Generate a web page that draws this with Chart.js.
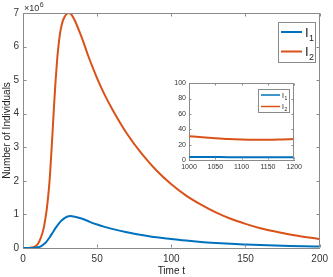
<!DOCTYPE html>
<html>
<head>
<meta charset="utf-8">
<script src="https://cdn.jsdelivr.net/npm/chart.js@4.4.1/dist/chart.umd.min.js"></script>
<style>
    html, body { margin: 0; padding: 0; background: #fff; }
    #wrap { position: relative; width: 333px; height: 277px; }
    #main { position: absolute; left: 0; top: 0; }
    #inset { position: absolute; left: 165px; top: 76px; }
</style>
</head>
<body>
<div id="wrap">
    <canvas id="main" width="333" height="277"></canvas>
    <canvas id="inset" width="140" height="100"></canvas>
</div>
<script>
// Main plot data (values in millions, axis shows x10^6)
const timeI1 = [0, 5, 8, 10, 12, 14, 16, 18, 20, 22, 24, 26, 28, 30, 32, 35, 40, 45, 50, 55, 60, 70, 80, 90, 100, 110, 120, 130, 140, 150, 160, 170, 180, 190, 200];
const i1Main = [0, 0.003, 0.01, 0.02, 0.05, 0.11, 0.2, 0.32, 0.46, 0.6, 0.72, 0.82, 0.89, 0.94, 0.95, 0.93, 0.87, 0.78, 0.7, 0.63, 0.57, 0.47, 0.39, 0.32, 0.27, 0.22, 0.18, 0.15, 0.125, 0.105, 0.087, 0.072, 0.06, 0.05, 0.041];

const timeI2 = [0, 5, 8, 10, 12, 14, 15, 16, 17, 18, 19, 20, 21, 22, 23, 24, 25, 26, 27, 28, 29, 30, 31, 32, 33, 35, 38, 41, 44, 47, 51, 55, 60, 70, 80, 90, 100, 110, 120, 130, 140, 150, 160, 170, 180, 190, 200];
const i2Main = [0, 0.01, 0.04, 0.12, 0.3, 0.6, 0.85, 1.15, 1.55, 2.05, 2.75, 3.5, 4.3, 5.0, 5.6, 6.05, 6.4, 6.63, 6.78, 6.88, 6.95, 6.99, 7.0, 6.98, 6.93, 6.77, 6.45, 6.1, 5.72, 5.38, 4.95, 4.57, 4.15, 3.41, 2.81, 2.31, 1.9, 1.56, 1.29, 1.06, 0.87, 0.72, 0.59, 0.49, 0.4, 0.33, 0.27];

// Inset data
const timeInset = [1000, 1025, 1050, 1075, 1100, 1125, 1150, 1175, 1200];
const i1Inset = [4.0, 3.9, 3.8, 3.7, 3.7, 3.6, 3.6, 3.6, 3.6];
const i2Inset = [31, 29.5, 28.3, 27.3, 26.7, 26.4, 26.4, 26.7, 27.2];

const seriesNames = ['I', 'I'];
const seriesSubs = ['1', '2'];
const seriesColors = ['#0072BD', '#D95319'];

const FONT = '"Liberation Sans", Arial, Helvetica, sans-serif';
const AXIS_COLOR = '#8a8a8a';
const TEXT_COLOR = '#333';

function toPoints(xs, ys) {
    return xs.map((x, i) => ({ x: x, y: ys[i] }));
}

// Draws the MATLAB-style box with inward ticks
const boxTicks = {
    id: 'boxTicks',
    beforeDraw(chart) {
        const a = chart.chartArea;
        const ctx = chart.ctx;
        ctx.save();
        ctx.fillStyle = '#fff';
        ctx.fillRect(a.left, a.top, a.right - a.left, a.bottom - a.top);
        ctx.restore();
    },
    afterDraw(chart, args, opts) {
        const { ctx, chartArea: a, scales: { x, y } } = chart;
        const L = opts.len || 3;
        ctx.save();
        ctx.strokeStyle = AXIS_COLOR;
        ctx.lineWidth = 1;
        ctx.beginPath();
        const t = Math.round(a.top) + 0.5, b = Math.round(a.bottom) - 0.5;
        const l = Math.round(a.left) + 0.5, r = Math.round(a.right) - 0.5;
        ctx.moveTo(l, t); ctx.lineTo(r, t); ctx.lineTo(r, b);
        x.ticks.forEach(tk => {
            const px = Math.round(x.getPixelForValue(tk.value)) + 0.5;
            ctx.moveTo(px, b); ctx.lineTo(px, b - L);
            ctx.moveTo(px, t); ctx.lineTo(px, t + L);
        });
        y.ticks.forEach(tk => {
            const py = Math.round(y.getPixelForValue(tk.value)) + 0.5;
            ctx.moveTo(l, py); ctx.lineTo(l + L, py);
            ctx.moveTo(r, py); ctx.lineTo(r - L, py);
        });
        ctx.stroke();
        ctx.restore();
    }
};

// Legend box with subscripted labels
const boxLegend = {
    id: 'boxLegend',
    afterDraw(chart, args, o) {
        if (!o || !o.w) return;
        const ctx = chart.ctx;
        ctx.save();
        ctx.fillStyle = '#fff';
        ctx.fillRect(o.x, o.y, o.w, o.h);
        ctx.strokeStyle = '#8a8a8a';
        ctx.lineWidth = 1;
        ctx.strokeRect(o.x + 0.5, o.y + 0.5, o.w, o.h);
        chart.data.datasets.forEach((ds, i) => {
            const ry = o.rows[i];
            ctx.strokeStyle = ds.borderColor;
            ctx.lineWidth = o.lw;
            ctx.beginPath();
            ctx.moveTo(o.x0, ry); ctx.lineTo(o.x1, ry);
            ctx.stroke();
            ctx.fillStyle = '#222';
            ctx.textBaseline = 'alphabetic';
            ctx.font = o.fs + 'px ' + FONT;
            ctx.fillText(seriesNames[i], o.tx, ry + o.fs * 0.36);
            const w = ctx.measureText(seriesNames[i]).width;
            ctx.font = o.sfs + 'px ' + FONT;
            ctx.fillText(seriesSubs[i], o.tx + w + 0.5, ry + o.fs * 0.36 + o.sfs * 0.45);
        });
        ctx.restore();
    }
};

// x10^6 exponent label
const exponentLabel = {
    id: 'exponentLabel',
    afterDraw(chart, args, o) {
        if (!o || !o.show) return;
        const ctx = chart.ctx;
        ctx.save();
        ctx.fillStyle = TEXT_COLOR;
        ctx.textBaseline = 'alphabetic';
        ctx.font = '9px ' + FONT;
        ctx.fillText('\u00d710', 24, 11);
        const w = ctx.measureText('\u00d710').width;
        ctx.font = '7px ' + FONT;
        ctx.fillText('6', 24 + w + 0.5, 7);
        ctx.restore();
    }
};

function lineSet(label, pts, color, width) {
    return {
        label: label,
        data: pts,
        borderColor: color,
        borderWidth: width,
        pointRadius: 0,
        fill: false,
        cubicInterpolationMode: 'monotone'
    };
}

new Chart(document.getElementById('main').getContext('2d'), {
    type: 'line',
    data: {
        datasets: [
            lineSet('I1', toPoints(timeI1, i1Main), seriesColors[0], 2),
            lineSet('I2', toPoints(timeI2, i2Main), seriesColors[1], 2)
        ]
    },
    options: {
        responsive: false,
        animation: false,
        devicePixelRatio: 1,
        layout: { padding: { left: 1, right: 8, top: 13, bottom: 0 } },
        plugins: {
            legend: { display: false },
            tooltip: { enabled: false },
            boxTicks: { len: 3 },
            boxLegend: { x: 278, y: 22, w: 37, h: 40, x0: 281, x1: 302, rows: [32, 51.5], tx: 305, fs: 13, sfs: 9, lw: 2 },
            exponentLabel: { show: true }
        },
        scales: {
            x: {
                type: 'linear',
                min: 0,
                max: 200,
                ticks: { stepSize: 50, padding: 5, color: TEXT_COLOR, font: { family: FONT, size: 10 }, maxRotation: 0 },
                grid: { drawOnChartArea: false, drawTicks: false },
                border: { color: AXIS_COLOR },
                title: { display: true, text: 'Time t', color: '#222', font: { family: FONT, size: 10 }, padding: 0 },
                afterFit: s => { s.height = 29; }
            },
            y: {
                min: 0,
                max: 7,
                ticks: { stepSize: 1, padding: 4, color: TEXT_COLOR, font: { family: FONT, size: 10 } },
                grid: { drawOnChartArea: false, drawTicks: false },
                border: { color: AXIS_COLOR },
                title: { display: true, text: 'Number of Individuals', color: '#222', font: { family: FONT, size: 10 }, padding: 0 },
                afterFit: s => { s.width = 22; }
            }
        }
    },
    plugins: [boxTicks, boxLegend, exponentLabel]
});

new Chart(document.getElementById('inset').getContext('2d'), {
    type: 'line',
    data: {
        datasets: [
            lineSet('I1', toPoints(timeInset, i1Inset), seriesColors[0], 2),
            lineSet('I2', toPoints(timeInset, i2Inset), seriesColors[1], 2)
        ]
    },
    options: {
        responsive: false,
        animation: false,
        devicePixelRatio: 1,
        layout: { padding: { left: 0, right: 7, top: 6, bottom: 0 } },
        plugins: {
            legend: { display: false },
            tooltip: { enabled: false },
            boxTicks: { len: 2 },
            boxLegend: { x: 93, y: 13, w: 31, h: 23, x0: 96, x1: 115, rows: [19, 30.5], tx: 117, fs: 7, sfs: 5, lw: 1.5 },
            exponentLabel: { show: false }
        },
        scales: {
            x: {
                type: 'linear',
                min: 1000,
                max: 1200,
                ticks: { stepSize: 50, padding: 3, color: TEXT_COLOR, font: { family: FONT, size: 7 }, maxRotation: 0,
                    callback: v => String(v) },
                grid: { drawOnChartArea: false, drawTicks: false },
                border: { color: AXIS_COLOR },
                afterFit: s => { s.height = 16; }
            },
            y: {
                min: 0,
                max: 100,
                ticks: { stepSize: 20, padding: 3, color: TEXT_COLOR, font: { family: FONT, size: 7 } },
                grid: { drawOnChartArea: false, drawTicks: false },
                border: { color: AXIS_COLOR },
                afterFit: s => { s.width = 24; }
            }
        }
    },
    plugins: [boxTicks, boxLegend]
});
</script>
</body>
</html>
